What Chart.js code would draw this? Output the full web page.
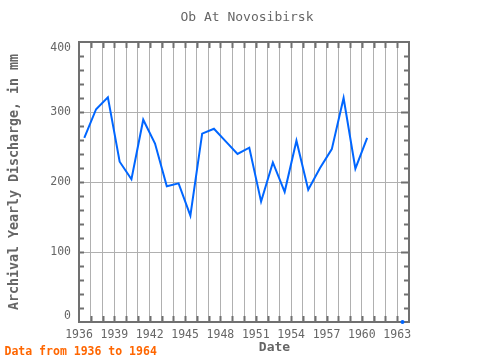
<!DOCTYPE html>
<html>
<head>
<meta charset="utf-8">
<script src="https://cdn.jsdelivr.net/npm/chart.js@4/dist/chart.umd.min.js"></script>
<style>
html,body{margin:0;padding:0;background:#fff;}
#wrap{width:480px;height:360px;position:relative;}
</style>
</head>
<body>
<div id="wrap"><canvas id="c" width="480" height="360"></canvas></div>
<script>
const chartTitle = 'Ob At Novosibirsk';
const xTitle = 'Date';
const yTitle = 'Archival Yearly Discharge, in mm';
const footNote = 'Data from 1936 to 1964';
const years = [1936,1937,1938,1939,1940,1941,1942,1943,1944,1945,1946,1947,1948,1949,1950,1951,1952,1953,1954,1955,1956,1957,1958,1959,1960,1961,1962,1963];
const discharge = [263,304,321,229,204,289,255,194,198,152,269,276,258,240,249,172,228,186,259,189,220,247,320,219,263,null,null,0];
const xTickLabels = [1936,1939,1942,1945,1948,1951,1954,1957,1960,1963];
const yTickLabels = [0,100,200,300,400];

const FONT = "'DejaVu Sans Mono', monospace";
const TEXT = '#666666';
const FRAME = '#707070';

const points = years.map((yr, i) => ({x: yr + 0.45, y: discharge[i]}));
const radii = discharge.map((v, i) => (v !== null && (i === 0 || discharge[i-1] === null) && (i === discharge.length-1 || discharge[i+1] === null)) ? 2 : 0);
const yMin = yTickLabels[0], yMax = yTickLabels[yTickLabels.length - 1];

const framePlugin = {
  id: 'framePlugin',
  beforeDatasetsDraw(chart) {
    const {ctx, chartArea: a, scales: {x, y}} = chart;
    ctx.save();
    ctx.strokeStyle = FRAME;
    ctx.lineWidth = 2;
    ctx.strokeRect(a.left, a.top, a.right - a.left, a.bottom - a.top);
    ctx.beginPath();
    x.ticks.forEach(t => {
      const px = Math.round(x.getPixelForValue(t.value)) + 0.5;
      if (px <= a.left + 1 || px >= a.right - 1) return;
      ctx.moveTo(px, a.top); ctx.lineTo(px, a.top + 6);
      ctx.moveTo(px, a.bottom); ctx.lineTo(px, a.bottom - 6);
    });
    y.ticks.forEach(t => {
      const py = Math.round(y.getPixelForValue(t.value)) + 0.5;
      if (py <= a.top + 1 || py >= a.bottom - 1) return;
      const major = t.value % 100 === 0;
      ctx.moveTo(a.left, py); ctx.lineTo(a.left + 5, py);
      ctx.moveTo(a.right, py); ctx.lineTo(a.right - (major ? 8 : 5), py);
    });
    ctx.stroke();
    ctx.restore();
  },
  afterDraw(chart) {
    const {ctx} = chart;
    ctx.save();
    ctx.textBaseline = 'middle';
    ctx.textAlign = 'center';
    ctx.fillStyle = TEXT;
    ctx.font = `13px ${FONT}`;
    ctx.fillText(chartTitle, 247, 18);
    ctx.font = `bold 13px ${FONT}`;
    ctx.fillText(xTitle, 274.5, 347.5);
    ctx.textAlign = 'left';
    ctx.fillStyle = '#ff6600';
    ctx.font = `bold 11.5px ${FONT}`;
    ctx.fillText(footNote, 4.5, 352);
    ctx.restore();
  }
};

new Chart(document.getElementById('c'), {
  type: 'line',
  data: {
    datasets: [{
      data: points,
      borderColor: '#0066ff',
      backgroundColor: '#0066ff',
      borderWidth: 2,
      pointRadius: radii,
      pointBorderWidth: 0,
      pointHoverRadius: 0,
      spanGaps: false,
      tension: 0,
      clip: false
    }]
  },
  options: {
    responsive: false,
    animation: false,
    events: [],
    layout: {padding: {left: 5, right: 71, top: 42, bottom: 0}},
    plugins: {legend: {display: false}, title: {display: false}, tooltip: {enabled: false}},
    scales: {
      x: {
        type: 'linear',
        min: 1936, max: 1964,
        afterFit(s) { s.height = 38; },
        border: {display: false},
        grid: {color: '#b0b0b0', lineWidth: 1, drawTicks: false},
        ticks: {
          stepSize: 1, autoSkip: false, maxRotation: 0, padding: 6,
          color: TEXT, font: {family: FONT, size: 11.5},
          callback: v => xTickLabels.includes(v) ? String(v) : ''
        }
      },
      y: {
        min: yMin, max: yMax,
        afterFit(s) { s.width = 74; },
        border: {display: false},
        grid: {color: c => (c.tick && yTickLabels.includes(c.tick.value)) ? '#b0b0b0' : 'rgba(0,0,0,0)', lineWidth: 1, drawTicks: false},
        ticks: {
          stepSize: 20, autoSkip: false, padding: 8,
          color: TEXT, font: {family: FONT, size: 11.5, lineHeight: 1},
          callback: v => {
            if (!yTickLabels.includes(v)) return '';
            if (v === yMax) return ['', String(v)];
            if (v === yMin) return [String(v), ''];
            return String(v);
          }
        },
        title: {display: true, text: yTitle, color: TEXT, font: {family: FONT, size: 13.3, weight: 'bold'}, padding: {top: 2, bottom: 0}}
      }
    }
  },
  plugins: [framePlugin]
});
</script>
</body>
</html>
